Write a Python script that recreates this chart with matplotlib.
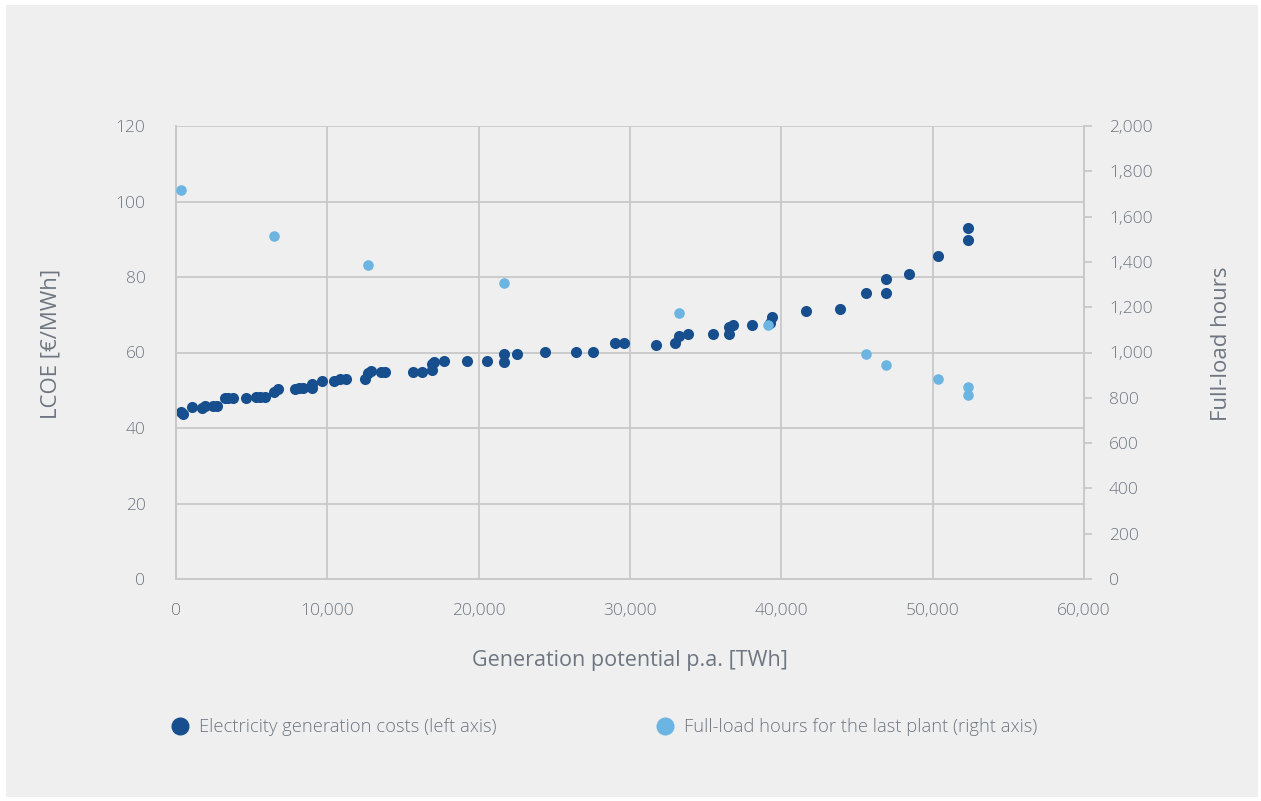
import matplotlib.pyplot as plt
from matplotlib.lines import Line2D
from matplotlib.ticker import FuncFormatter, MultipleLocator

# Electricity generation costs (left axis)
cost_potential = [330, 480, 1040, 1700, 1920, 2460, 2690, 3240, 3460, 3750,
                  4610, 5290, 5550, 5880, 6500, 6720, 7860, 8150, 8410, 8970,
                  8970, 9670, 10440, 10840, 11210, 12490, 12710, 12870, 13530, 13830,
                  15640, 16280, 16900, 16900, 17050, 17690, 19210, 20530, 21700, 21700,
                  22510, 24380, 26410, 27580, 29010, 29600, 31700, 33000, 33220, 33810,
                  35460, 36540, 36540, 36830, 38080, 39250, 39360, 41610, 43860, 45620,
                  46920, 46920, 48440, 50330, 52340, 52340]
lcoe = [44.3, 43.6, 45.5, 45.4, 45.8, 45.8, 45.8, 47.9, 47.9, 47.9,
        47.9, 48.3, 48.3, 48.3, 49.6, 50.3, 50.3, 50.7, 50.7, 51.7,
        50.7, 52.5, 52.5, 53.0, 53.0, 53.0, 54.5, 55.2, 54.9, 54.9,
        54.9, 54.9, 55.4, 56.9, 57.6, 57.7, 57.7, 57.7, 59.6, 57.6,
        59.6, 60.1, 60.1, 60.1, 62.4, 62.4, 62.0, 62.4, 64.4, 64.8,
        64.8, 64.8, 66.7, 67.3, 67.3, 67.7, 69.5, 71.0, 71.4, 75.7,
        79.5, 75.7, 80.9, 85.6, 93.1, 89.8]

# Full-load hours for the last plant (right axis)
hours_potential = [330, 6480, 12690, 21680, 33220, 39140, 45620, 46920, 50330, 52340, 52340]
full_load_hours = [1717, 1513, 1386, 1308, 1173, 1121, 993, 946, 883, 846, 812]

x_ticks = [0, 10000, 20000, 30000, 40000, 50000, 60000]

DARK = '#174f8e'
LIGHT = '#6cb5e2'
TEXT = '#6e7681'
GRID = '#c9c9c9'
BG = '#efefef'

plt.rcParams['font.family'] = ['Open Sans', 'DejaVu Sans']
plt.rcParams['font.weight'] = 'light'

fig = plt.figure(figsize=(12.61, 8.01), dpi=100, facecolor='white')
# light grey panel behind the chart
fig.patches.append(plt.Rectangle((6 / 1261, 4 / 801), 1252 / 1261, 792 / 801,
                                 transform=fig.transFigure, facecolor=BG,
                                 edgecolor='none', zorder=-10))

ax = fig.add_axes([176 / 1261, 222 / 801, 908 / 1261, 453 / 801])
ax.set_facecolor(BG)
ax2 = ax.twinx()

ax.set_xlim(0, 60000)
ax.set_ylim(0, 120)
ax2.set_ylim(0, 2000)
ax.set_xticks(x_ticks)
ax.yaxis.set_major_locator(MultipleLocator(20))
ax2.yaxis.set_major_locator(MultipleLocator(200))

fmt = FuncFormatter(lambda v, p: f'{v:,.0f}')
ax.xaxis.set_major_formatter(fmt)
ax2.yaxis.set_major_formatter(fmt)

ax.grid(True, color=GRID, linewidth=1.3)
ax.set_axisbelow(True)
for a in (ax, ax2):
    for side, sp in a.spines.items():
        sp.set_color(GRID)
        sp.set_linewidth(1.3)
    a.spines['top'].set_visible(False)

ax.tick_params(axis='both', length=0, labelsize=12.5, labelcolor=TEXT)
ax.tick_params(axis='x', pad=17)
ax.tick_params(axis='y', pad=22)
ax2.tick_params(axis='y', length=6, width=1.3, color=GRID, labelsize=12.5,
                labelcolor=TEXT, pad=12)

ax.scatter(cost_potential, lcoe, s=64, color=DARK, zorder=3, linewidths=0)
ax2.scatter(hours_potential, full_load_hours, s=58, color=LIGHT, zorder=4,
            linewidths=0, clip_on=False)

ax.set_xlabel('Generation potential p.a. [TWh]', fontsize=15.5, color=TEXT)
ax.set_ylabel('LCOE [€/MWh]', fontsize=16, color=TEXT)
ax2.set_ylabel('Full-load hours', fontsize=16, color=TEXT)
ax.xaxis.set_label_coords(0.5, -0.157)
ax.yaxis.set_label_coords(-0.126, 0.52)
ax2.yaxis.set_label_coords(1.140, 0.52)

handles = [
    Line2D([], [], marker='o', linestyle='none', markersize=12, color=DARK,
           label='Electricity generation costs (left axis)'),
    Line2D([], [], marker='o', linestyle='none', markersize=12, color=LIGHT,
           label='Full-load hours for the last plant (right axis)'),
]
leg = fig.legend(handles=handles, loc='center left', ncol=2, frameon=False,
                 bbox_to_anchor=(154 / 1261, 1 - 727 / 801), fontsize=13.2,
                 handletextpad=0.55, columnspacing=8.7, handlelength=1.0)
for t in leg.get_texts():
    t.set_color(TEXT)

fig.savefig('out.png', dpi=100, facecolor='white')
